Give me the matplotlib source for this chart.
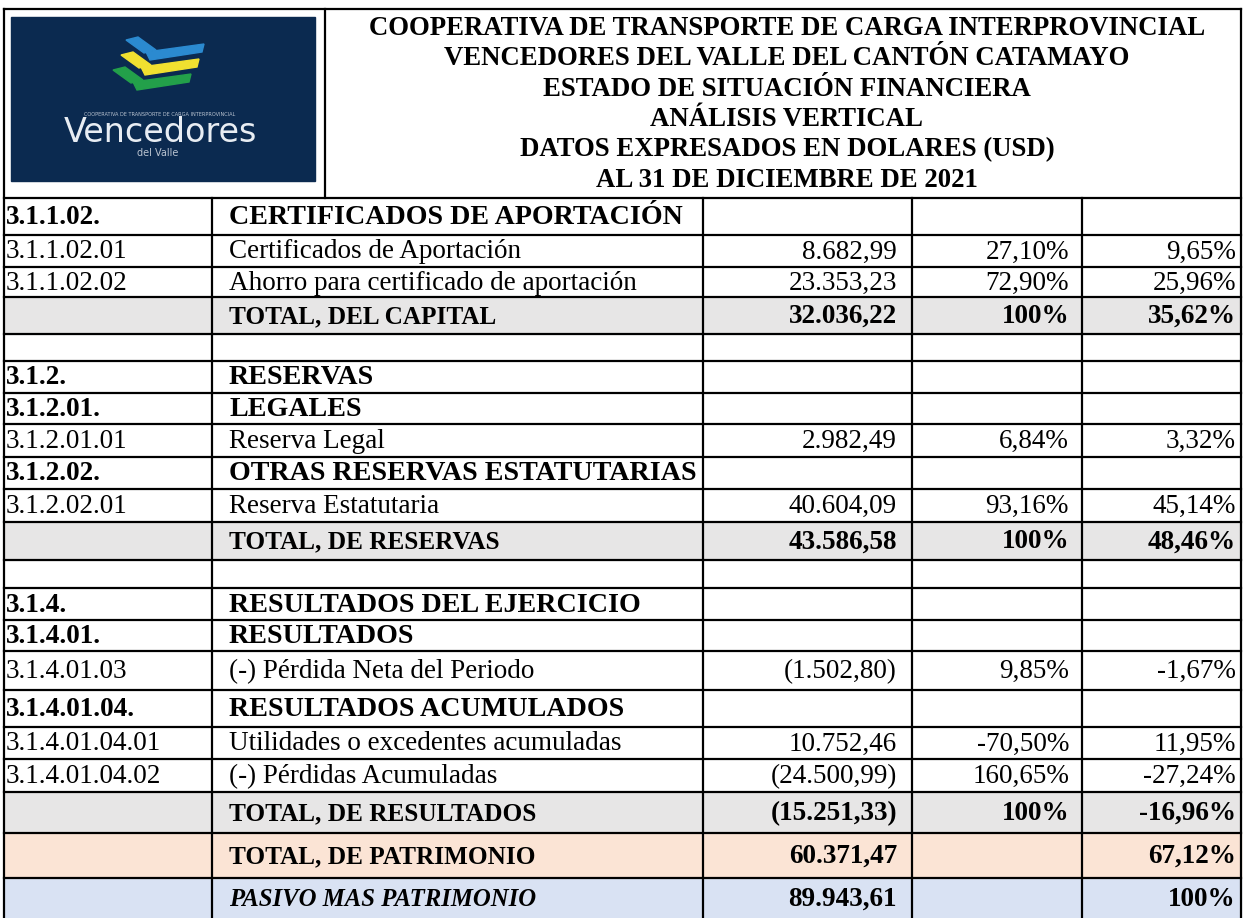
import matplotlib.pyplot as plt
from matplotlib.patches import Rectangle, Polygon

plt.rcParams["font.family"] = ["Liberation Serif", "DejaVu Serif"]

# Datos de la tabla (análisis vertical del patrimonio)
titles = [
    "COOPERATIVA DE TRANSPORTE DE CARGA INTERPROVINCIAL",
    "VENCEDORES DEL VALLE DEL CANTÓN CATAMAYO",
    "ESTADO DE SITUACIÓN FINANCIERA",
    "ANÁLISIS VERTICAL",
    "DATOS EXPRESADOS EN DOLARES (USD)",
    "AL 31 DE DICIEMBRE DE 2021",
]
codes = ["3.1.1.02.", "3.1.1.02.01", "3.1.1.02.02", "", "",
         "3.1.2.", "3.1.2.01.", "3.1.2.01.01", "3.1.2.02.", "3.1.2.02.01", "", "",
         "3.1.4.", "3.1.4.01.", "3.1.4.01.03", "3.1.4.01.04.", "3.1.4.01.04.01",
         "3.1.4.01.04.02", "", "", ""]
labels = ["CERTIFICADOS DE APORTACIÓN", "Certificados de Aportación",
          "Ahorro para certificado de aportación", "TOTAL, DEL CAPITAL", "",
          "RESERVAS", "LEGALES", "Reserva Legal", "OTRAS RESERVAS ESTATUTARIAS",
          "Reserva Estatutaria", "TOTAL, DE RESERVAS", "",
          "RESULTADOS DEL EJERCICIO", "RESULTADOS", "(-) Pérdida Neta del Periodo",
          "RESULTADOS ACUMULADOS", "Utilidades o excedentes acumuladas",
          "(-) Pérdidas Acumuladas", "TOTAL, DE RESULTADOS", "TOTAL, DE PATRIMONIO",
          "PASIVO MAS PATRIMONIO"]
values = ["", "8.682,99", "23.353,23", "32.036,22", "",
          "", "", "2.982,49", "", "40.604,09", "43.586,58", "",
          "", "", "(1.502,80)", "", "10.752,46", "(24.500,99)", "(15.251,33)",
          "60.371,47", "89.943,61"]
pct_group = ["", "27,10%", "72,90%", "100%", "",
             "", "", "6,84%", "", "93,16%", "100%", "",
             "", "", "9,85%", "", "-70,50%", "160,65%", "100%", "", ""]
pct_total = ["", "9,65%", "25,96%", "35,62%", "",
             "", "", "3,32%", "", "45,14%", "48,46%", "",
             "", "", "-1,67%", "", "11,95%", "-27,24%", "-16,96%", "67,12%", "100%"]
kinds = ["head", "item", "item", "total", "blank",
         "head", "head", "item", "head", "item", "total", "blank",
         "head", "head", "item", "head", "item", "item", "total", "patr", "pasivo"]

# Geometría (píxeles)
W, H = 1244, 918
col_x = [4, 212, 703, 912, 1082, 1241]
row_y = [198, 235, 267, 297, 334, 361, 393, 424, 457, 489, 522, 560, 588, 620,
         651, 690, 727, 759, 792, 833, 878, 918]
head_top = 9
logo_sep = 325
fills = {"total": "#e7e6e6", "patr": "#fbe4d5", "pasivo": "#d9e2f3"}
FS = 19.5
label_fs = {"head": 20.2, "item": 19.5, "total": 18.2, "patr": 18.2, "pasivo": 17.8, "blank": 19.5}
LW = 1.6

fig = plt.figure(figsize=(W / 100, H / 100), dpi=100)
ax = fig.add_axes([0, 0, 1, 1])
ax.set_xlim(0, W)
ax.set_ylim(H, 0)
ax.axis("off")

# Logo (aproximado)
ax.add_patch(Rectangle((11, 17), 304, 164, color="#0b2a50", zorder=1))
for x0, y0, c in [(126, 40, "#2b8ad0"), (121, 55, "#f0e030"), (113, 70, "#23a04a")]:
    ax.add_patch(Polygon([(x0, y0), (x0 + 12, y0 - 3), (x0 + 30, y0 + 10), (x0 + 18, y0 + 13)],
                         color=c, zorder=2))
    ax.add_patch(Polygon([(x0 + 20, y0 + 12), (x0 + 78, y0 + 4), (x0 + 76, y0 + 12), (x0 + 24, y0 + 20)],
                         color=c, zorder=2))
ax.text(160, 115, "COOPERATIVA DE TRANSPORTE DE CARGA INTERPROVINCIAL", fontsize=3.6,
        color="#b9c3d0", ha="center", va="center", family="DejaVu Sans", zorder=3)
ax.text(160, 133, "Vencedores", fontsize=24, color="#e8edf3", ha="center", va="center",
        family="DejaVu Sans", zorder=3)
ax.text(158, 153, "del Valle", fontsize=7, color="#b9c3d0", ha="center", va="center",
        family="DejaVu Sans", zorder=3)

# Títulos
for i, t in enumerate(titles):
    ax.text((logo_sep + col_x[-1]) / 2 + 4, 28.5 + i * 30.4, t, fontsize=19.3, weight="bold",
            ha="center", va="center", zorder=3)

# Fondos de filas
for i, k in enumerate(kinds):
    if k in fills:
        ax.add_patch(Rectangle((col_x[0], row_y[i]), col_x[-1] - col_x[0],
                               row_y[i + 1] - row_y[i], color=fills[k], zorder=1))

# Texto de filas
for i, k in enumerate(kinds):
    yc = (row_y[i] + row_y[i + 1]) / 2 + 1
    bold = k in ("head", "total", "patr", "pasivo")
    w = "bold" if bold else "normal"
    ax.text(col_x[0] + 2, yc, codes[i], fontsize=FS, weight=w, ha="left", va="center")
    ax.text(col_x[1] + 17, yc, labels[i], fontsize=label_fs[k], weight=w,
            style="italic" if k == "pasivo" else "normal", ha="left", va="center")
    ax.text(col_x[3] - 15, yc, values[i], fontsize=FS, weight=w, ha="right", va="center")
    ax.text(col_x[4] - 13, yc, pct_group[i], fontsize=FS, weight=w, ha="right", va="center")
    ax.text(col_x[5] - 5, yc, pct_total[i], fontsize=FS, weight=w, ha="right", va="center")

# Bordes
kw = dict(color="black", lw=LW, zorder=4, solid_capstyle="projecting")
ax.plot([col_x[0], col_x[-1]], [head_top, head_top], **kw)
ax.plot([col_x[0], col_x[0]], [head_top, H], **kw)
ax.plot([col_x[-1], col_x[-1]], [head_top, H], **kw)
ax.plot([logo_sep, logo_sep], [head_top, row_y[0]], **kw)
for y in row_y[:-1]:
    ax.plot([col_x[0], col_x[-1]], [y, y], **kw)
for x in col_x[1:-1]:
    ax.plot([x, x], [row_y[0], H], **kw)

fig.savefig("out.png", dpi=100)
